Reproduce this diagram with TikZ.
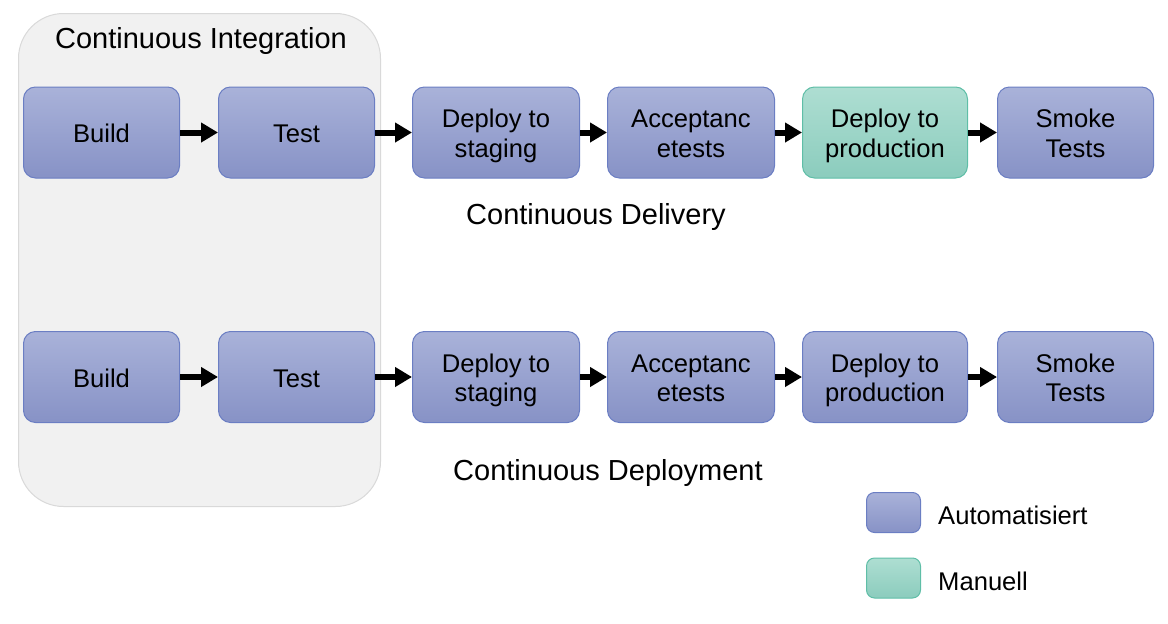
\documentclass[tikz,border=0pt]{standalone}
\usepackage{fontspec}
\setmainfont{Liberation Sans}
\usetikzlibrary{positioning,arrows.meta}
\definecolor{autotop}{HTML}{A9B2D9}
\definecolor{autobot}{HTML}{8792C6}
\definecolor{autoline}{HTML}{6B7EC3}
\definecolor{mantop}{HTML}{AEDED2}
\definecolor{manbot}{HTML}{8BCCBD}
\definecolor{manline}{HTML}{5FBEA7}
\definecolor{cigray}{HTML}{F1F1F1}
\definecolor{ciline}{HTML}{D9D9D9}

\begin{document}
\begin{tikzpicture}[x=1pt,y=-1pt,
      stage/.style={draw=autoline, line width=1pt, rounded corners=12pt,
        top color=autotop, bottom color=autobot, inner sep=0pt,
        minimum width=156pt, minimum height=91pt, align=center,
        font=\fontsize{25.6}{29.5}\selectfont,
        text height=20.4pt, text depth=0pt},
      pair/.style={stage, minimum width=167pt, text height=55.4pt, text depth=6pt},
      manual/.style={draw=manline, top color=mantop, bottom color=manbot},
      flow/.style={line width=6pt, -{Triangle[length=17pt,width=19pt]}},
      title/.style={font=\fontsize{29}{34}\selectfont},
      keybox/.style={draw=autoline, line width=1pt, rounded corners=8pt,
        top color=autotop, bottom color=autobot,
        minimum width=54pt, minimum height=40pt},
      keytext/.style={anchor=west, inner sep=0pt, font=\fontsize{25.6}{29.5}\selectfont}]
    \useasboundingbox (0,0) rectangle (1168,624);
    % continuous integration area
    \node[draw=ciline, fill=cigray, line width=1pt, rounded corners=45pt,
          minimum width=362pt, minimum height=493pt] (ci) at (199.5,260) {};
    \node[title] (citext) at (201,41) {Continuous Integration};

    % continuous delivery
    \node[stage] (b1) at (101.5,132.5) {Build};
    \node[stage, right=38pt of b1] (t1) {Test};
    \node[pair, right=37pt of t1] (s1) {Deploy to\\staging};
    \node[pair, right=27pt of s1] (a1) {Acceptanc\\etests};
    \node[pair, manual, minimum width=165pt, right=27pt of a1] (p1) {Deploy to\\production};
    \node[pair, minimum width=156pt, right=29pt of p1] (k1) {Smoke\\Tests};
    \node[title] (cdtext) at (596,217) {Continuous Delivery};

    % continuous deployment
    \node[stage] (b2) at (101.5,377) {Build};
    \node[stage, right=38pt of b2] (t2) {Test};
    \node[pair, right=37pt of t2] (s2) {Deploy to\\staging};
    \node[pair, right=27pt of s2] (a2) {Acceptanc\\etests};
    \node[pair, minimum width=165pt, right=27pt of a2] (p2) {Deploy to\\production};
    \node[pair, minimum width=156pt, right=29pt of p2] (k2) {Smoke\\Tests};
    \node[title] (deptext) at (608,473) {Continuous Deployment};

    \foreach \r in {1,2} {
      \draw[flow] (b\r) -- (t\r);
      \draw[flow] (t\r) -- (s\r);
      \draw[flow] (s\r) -- (a\r);
      \draw[flow] (a\r) -- (p\r);
      \draw[flow] (p\r) -- (k\r);
    }

    % legend
    \node[keybox] (keyauto) at (893.5,512.5) {};
    \node[keytext] (keyautotext) at (938,515) {Automatisiert};
    \node[keybox, manual] (keyman) at (893.5,578) {};
    \node[keytext] (keymantext) at (938,581) {Manuell};
\end{tikzpicture}
\end{document}
